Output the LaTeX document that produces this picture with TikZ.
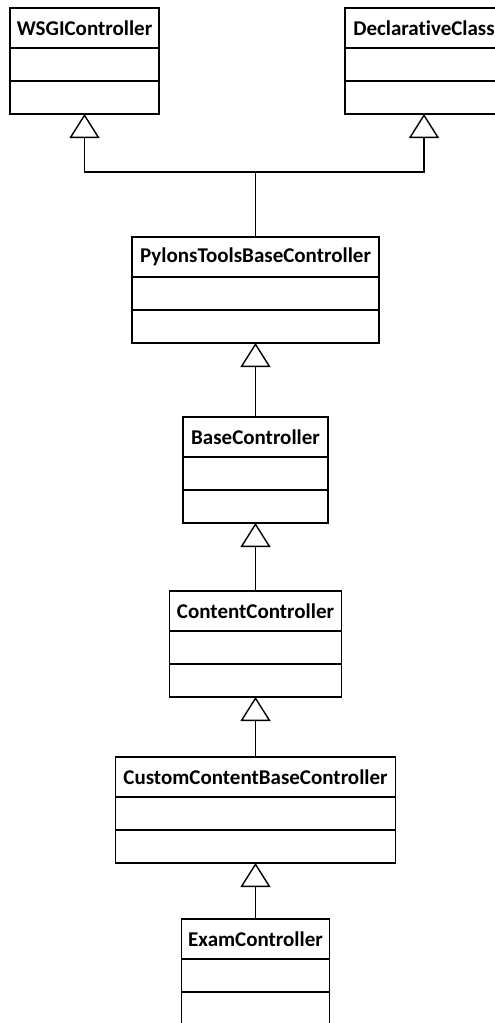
\documentclass[tikz,border=0pt]{standalone}
\usepackage{fontspec}
\setmainfont{Carlito}[Ligatures={NoCommon,NoContextual,NoRare}]
\usetikzlibrary{positioning,arrows.meta}

\tikzset{
  classname/.style={draw, line width=1.4pt, inner sep=0pt, outer sep=0pt,
    minimum height=40pt, anchor=north, font=\bfseries\fontsize{21}{25}\selectfont},
  compart/.style={draw, line width=1.4pt, inner sep=0pt, outer sep=0pt,
    minimum height=33pt},
  inherit/.style={line width=1.4pt, -{Triangle[open, length=24pt, width=30pt]}}
}

\begin{document}
\begin{tikzpicture}[x=1pt, y=-1pt]
    \useasboundingbox (0,0) rectangle (495,1023);

    % Top level classes
    \node[classname, minimum width=149pt] (wsgi) at (84.5,8) {WSGIController};
    \node[compart, minimum width=149pt, below=0pt of wsgi] (wsgiattr) {};
    \node[compart, minimum width=149pt, below=0pt of wsgiattr] (wsgiops) {};

    \node[classname, minimum width=158pt] (decl) at (424,8) {DeclarativeClass};
    \node[compart, minimum width=158pt, below=0pt of decl] (declattr) {};
    \node[compart, minimum width=158pt, below=0pt of declattr] (declops) {};

    % Chain of controllers
    \node[classname, minimum width=247pt] (pylons) at (255.5,237) {PylonsToolsBaseController};
    \node[compart, minimum width=247pt, below=0pt of pylons] (pylonsattr) {};
    \node[compart, minimum width=247pt, below=0pt of pylonsattr] (pylonsops) {};

    \node[classname, minimum width=145pt] (base) at (255.5,417) {BaseController};
    \node[compart, minimum width=145pt, below=0pt of base] (baseattr) {};
    \node[compart, minimum width=145pt, below=0pt of baseattr] (baseops) {};

    \node[classname, minimum width=172pt] (content) at (255.5,591) {ContentController};
    \node[compart, minimum width=172pt, below=0pt of content] (contentattr) {};
    \node[compart, minimum width=172pt, below=0pt of contentattr] (contentops) {};

    \node[classname, minimum width=280pt] (custom) at (255.5,757) {CustomContentBaseController};
    \node[compart, minimum width=280pt, below=0pt of custom] (customattr) {};
    \node[compart, minimum width=280pt, below=0pt of customattr] (customops) {};

    \node[classname, minimum width=148pt] (exam) at (255.5,919) {ExamController};
    \node[compart, minimum width=148pt, below=0pt of exam] (examattr) {};
    \node[compart, minimum width=148pt, below=0pt of examattr] (examops) {};

    % Generalisation arrows
    \coordinate (split) at (255.5,172);
    \draw[line width=1.4pt] (pylons.north) -- (split);
    \draw[inherit] (split) -| (wsgiops.south);
    \draw[inherit] (split) -| (declops.south);

    \draw[inherit] (base.north) -- (pylonsops.south);
    \draw[inherit] (content.north) -- (baseops.south);
    \draw[inherit] (custom.north) -- (contentops.south);
    \draw[inherit] (exam.north) -- (customops.south);
\end{tikzpicture}
\end{document}
